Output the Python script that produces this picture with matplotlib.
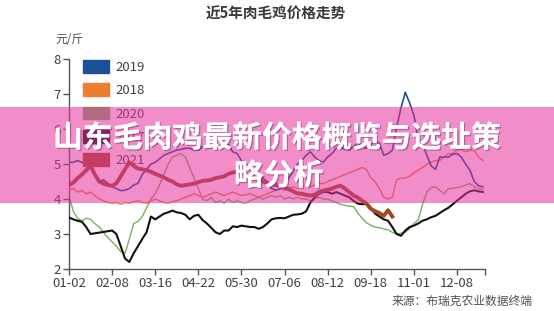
import numpy as np
import matplotlib
matplotlib.use("Agg")
import matplotlib.pyplot as plt
from matplotlib.patches import Patch, Rectangle
import matplotlib.patheffects as pe

plt.rcParams['font.family'] = ['Noto Sans CJK SC', 'DejaVu Sans']

# ---------------- data ----------------
tick_labels = ["01-02", "02-08", "03-16", "04-22", "05-30", "07-06", "08-12", "09-18", "11-01", "12-08"]
legend_years = ["2019", "2018", "2020", "2017", "2021"]

s2017 = [3.47,3.42,3.38,3.35,3.2,3.0,3.02,3.04,3.06,3.08,3.1,3.0,2.65,2.3,2.2,2.45,2.65,2.86,3.05,3.5,
         3.42,3.5,3.58,3.62,3.67,3.62,3.6,3.55,3.42,3.52,3.55,3.4,3.3,3.18,3.05,3.0,3.1,3.1,3.22,3.2,
         3.24,3.22,3.2,3.2,3.15,3.2,3.3,3.42,3.45,3.46,3.45,3.5,3.55,3.56,3.58,3.65,3.9,4.05,4.15,4.2,
         4.2,4.15,4.2,4.15,4.1,4.05,3.95,3.87,3.85,3.87,3.75,3.58,3.5,3.42,3.38,3.2,3.0,2.95,3.1,3.2,
         3.24,3.3,3.38,3.42,3.48,3.52,3.6,3.68,3.75,3.85,3.95,4.05,4.15,4.22,4.25,4.22,4.2]
s2018 = [4.25,4.3,4.2,4.25,4.15,4.2,4.1,4.0,3.95,3.9,3.88,3.9,3.85,3.9,3.88,3.92,3.95,3.9,3.88,3.95,
         4.0,3.95,3.9,3.88,3.92,3.95,4.0,4.05,4.1,4.15,4.1,4.05,4.1,4.15,4.2,4.15,4.1,4.15,4.2,4.15,
         4.1,4.12,4.15,4.1,4.05,4.1,4.15,4.2,4.25,4.3,4.25,4.3,4.35,4.3,4.35,4.4,4.35,4.4,4.45,4.44,
         4.5,4.55,4.6,4.65,4.7,4.75,4.8,4.85,4.9,4.85,4.6,4.5,4.3,4.05,4.0,4.05,4.55,4.6,4.6,4.65,
         4.75,4.82,4.9,5.0,5.05,5.1,5.1,5.2,5.3,5.3,5.4,5.4,5.35,5.4,5.38,5.2,5.1]
s2019 = [5.05,5.05,5.1,5.05,4.98,4.9,4.7,4.5,4.55,4.45,4.35,4.3,4.24,4.25,4.3,4.4,4.45,4.7,4.85,5.0,
         5.05,5.15,5.25,5.3,5.35,5.4,5.42,5.45,5.45,5.4,5.4,5.5,5.53,5.5,5.45,5.5,5.6,5.55,5.35,5.3,
         5.1,5.0,4.9,4.8,4.7,4.6,4.5,4.3,4.25,4.3,4.4,4.6,4.8,5.0,5.1,5.25,5.35,5.2,5.1,5.05,
         5.2,5.3,5.45,5.48,5.42,5.4,5.5,5.6,5.5,5.45,5.55,5.65,5.6,5.25,5.3,5.39,6.05,6.6,7.05,6.75,
         6.4,5.7,5.6,5.25,4.95,4.85,5.2,5.2,5.2,5.28,5.3,5.2,5.0,4.82,4.5,4.38,4.35]
s2020 = [4.1,3.65,3.45,3.38,3.45,3.42,3.3,3.2,3.05,2.9,2.78,2.65,2.5,2.45,2.85,3.3,3.36,3.5,3.75,4.0,
         4.15,4.4,4.7,5.0,5.2,5.25,5.3,5.2,4.9,4.6,4.3,4.0,3.95,4.05,3.9,3.95,3.88,4.0,3.9,3.95,
         3.9,3.88,3.95,4.0,4.05,4.0,4.05,4.1,4.05,4.1,4.0,4.05,4.0,4.05,4.0,4.0,3.95,4.0,4.05,4.0,
         4.0,3.95,3.9,3.85,3.82,3.8,3.78,3.6,3.45,3.32,3.25,3.2,3.18,3.15,3.12,3.05,3.0,3.02,3.05,3.15,
         3.3,3.4,3.85,4.2,4.33,4.35,4.25,4.15,4.3,4.3,4.33,4.35,4.4,4.44,4.35,4.3,4.28]
s2021 = [4.4,4.47,4.6,4.7,4.82,4.95,4.7,4.5,4.44,4.4,4.38,4.45,4.65,4.85,5.05,4.95,4.87,4.85,4.82,4.78,
         4.72,4.67,4.62,4.55,4.5,4.42,4.38,4.4,4.42,4.44,4.48,4.52,4.53,4.55,4.6,4.62,4.65,4.72,4.76,4.78,
         4.75,4.7,4.65,4.6,4.55,4.5,4.45,4.42,4.4,4.38,4.32,4.28,4.22,4.16,4.15,4.12,4.1,4.12,4.2,4.24,
         4.27,4.3,4.35,4.38,4.3,4.2,4.1,4.04,3.95,3.87,3.72,3.65,3.6,3.52,3.68,3.5]

series = {
    "2020": (s2020, "#78b15a", 1.0, 2),
    "2018": (s2018, "#ED7D31", 1.0, 3),
    "2019": (s2019, "#1b4f96", 1.2, 4),
    "2017": (s2017, "#111111", 1.5, 5),
    "2021": (s2021, "#9c4a1e", 2.8, 6),
}

# ---------------- figure ----------------
fig = plt.figure(figsize=(5.54, 3.11), dpi=100)
ax = fig.add_axes([0.1245, 0.135, 0.751, 0.675])

for name, (vals, col, lw, z) in series.items():
    ax.plot(np.arange(len(vals)), vals, color=col, lw=lw, zorder=z, solid_joinstyle='round')

ax.set_xlim(0, 96.5)
ax.set_ylim(2, 8)
ax.set_xticks(np.arange(len(tick_labels)) * 10)
ax.set_xticklabels(tick_labels)
ax.set_xticks([96.5], minor=True)
ax.set_yticks(range(2, 9))
for sp in ["top", "right"]:
    ax.spines[sp].set_visible(False)
for sp in ["left", "bottom"]:
    ax.spines[sp].set_color("#555555")
    ax.spines[sp].set_linewidth(1.0)
ax.tick_params(axis="both", which="both", colors="#555555", length=4, width=1.0,
               labelsize=9.5, labelcolor="#404040", pad=2)

handles = [Patch(facecolor=series[y][1], edgecolor=series[y][1]) for y in legend_years]
leg = ax.legend(handles, legend_years, loc="upper left", bbox_to_anchor=(0.02, 1.02),
                frameon=False, fontsize=9.5, handlelength=2.0, handleheight=1.1,
                labelspacing=0.72, handletextpad=0.5, borderaxespad=0)
for t in leg.get_texts():
    t.set_color("#404040")

fig.text(0.498, 0.955, "近5年肉毛鸡价格走势", ha="center", va="center",
         fontsize=10.5, fontweight="bold", color="#3a3a3a")
fig.text(0.125, 0.872, "元/斤", ha="center", va="center", fontsize=8.5, color="#505050")
fig.text(0.962, 0.03, "来源：布瑞克农业数据终端", ha="right", va="center",
         fontsize=8.5, color="#505050")

# overlay banner
fig.add_artist(Rectangle((0, 1 - 203 / 311), 1, 96 / 311, transform=fig.transFigure,
                         facecolor=(230 / 255, 50 / 255, 158 / 255), alpha=0.55,
                         edgecolor="none", zorder=10))
shadow = [pe.withSimplePatchShadow(offset=(1, -1), shadow_rgbFace="#7a3060", alpha=0.5), pe.Normal()]
fig.text(0.5, 1 - 138 / 311, "山东毛肉鸡最新价格概览与选址策", ha="center", va="center",
         fontsize=21.5, fontweight="bold", color="white", zorder=11, path_effects=shadow)
fig.text(0.503, 1 - 176 / 311, "略分析", ha="center", va="center",
         fontsize=21.5, fontweight="bold", color="white", zorder=11, path_effects=shadow)

fig.savefig("out.png", dpi=100)
